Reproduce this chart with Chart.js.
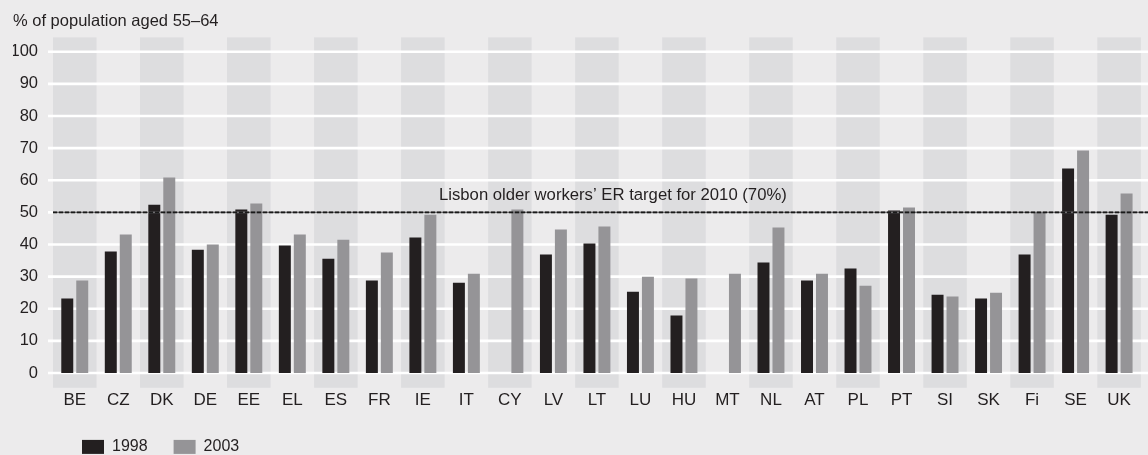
<!DOCTYPE html>
<html><head><meta charset="utf-8">
<script src="https://cdn.jsdelivr.net/npm/chart.js@4/dist/chart.umd.min.js"></script>
<style>html,body{margin:0;padding:0;background:#ecebec;} canvas{display:block}</style>
</head><body>
<canvas id="c" width="1148" height="455"></canvas>
<script>
const categories = ['BE','CZ','DK','DE','EE','EL','ES','FR','IE','IT','CY','LV','LT','LU','HU','MT','NL','AT','PL','PT','SI','SK','Fi','SE','UK'];
const values1998 = [23.2,37.8,52.4,38.4,50.9,39.7,35.6,28.8,42.2,28.1,null,36.9,40.3,25.3,17.9,null,34.4,28.8,32.5,50.6,24.4,23.2,36.9,63.7,49.3];
const values2003 = [28.8,43.1,60.9,40.0,52.8,43.1,41.5,37.5,49.3,30.9,50.9,44.7,45.6,30.0,29.4,30.9,45.3,30.9,27.2,51.5,23.8,25.0,49.9,69.3,55.9];
const seriesLabels = ['1998','2003'];
const yMin = 0, yMax = 100, yStep = 10;
const targetValue = 50;
const targetLabel = 'Lisbon older workers\u2019 ER target for 2010 (70%)';
const axisTitle = '% of population aged 55\u201364';

const TEXT = '#231f20';
const FONT = '"Liberation Sans", Arial, sans-serif';
const NARROW = '"Liberation Sans Narrow", "Liberation Sans", Arial, sans-serif';

const decor = {
  id: 'decor',
  afterLayout(chart) {
    if (chart.legend) {
      chart.legend.left += 43;
      chart.legend.top += 2.5;
      chart.legend.bottom += 2.5;
    }
  },
  beforeDraw(chart) {
    const {ctx, chartArea: a, scales: {x, y}} = chart;
    ctx.save();
    ctx.fillStyle = '#ecebec';
    ctx.fillRect(0, 0, chart.width, chart.height);
    const w = (a.right - a.left) / categories.length;
    const top = y.getPixelForValue(104.5), bottom = y.getPixelForValue(-4.6);
    ctx.fillStyle = '#dddddf';
    categories.forEach((c, i) => {
      if (i % 2 === 0) {
        const cx = x.getPixelForValue(i);
        ctx.fillRect(cx - w / 2, top, w, bottom - top);
      }
    });
    ctx.strokeStyle = '#ffffff';
    ctx.lineWidth = 2.6;
    y.ticks.forEach(t => {
      const py = y.getPixelForValue(t.value);
      ctx.beginPath(); ctx.moveTo(a.left - 5, py); ctx.lineTo(chart.width, py); ctx.stroke();
    });
    ctx.restore();
  },
  afterDatasetsDraw(chart) {
    const {ctx, chartArea: a, scales: {y}} = chart;
    const py = y.getPixelForValue(targetValue);
    ctx.save();
    ctx.strokeStyle = '#6e6d6f';
    ctx.lineWidth = 1.8;
    ctx.beginPath(); ctx.moveTo(a.left, py); ctx.lineTo(chart.width, py); ctx.stroke();
    ctx.strokeStyle = '#1a1a1a';
    ctx.lineWidth = 1.8;
    ctx.setLineDash([4, 2]);
    ctx.beginPath(); ctx.moveTo(a.left, py); ctx.lineTo(chart.width, py); ctx.stroke();
    ctx.setLineDash([]);
    ctx.fillStyle = TEXT;
    ctx.font = '16.7px ' + FONT;
    ctx.textAlign = 'left';
    ctx.textBaseline = 'middle';
    ctx.fillText(targetLabel, a.left + 386, py - 17);
    ctx.restore();
  }
};

new Chart(document.getElementById('c'), {
  type: 'bar',
  data: {
    labels: categories,
    datasets: [
      {label: seriesLabels[0], data: values1998, backgroundColor: '#231f20', borderWidth: 0, categoryPercentage: 0.688, barPercentage: 0.8},
      {label: seriesLabels[1], data: values2003, backgroundColor: '#959497', borderWidth: 0, categoryPercentage: 0.688, barPercentage: 0.8}
    ]
  },
  options: {
    responsive: false,
    animation: false,
    devicePixelRatio: 1,
    layout: {padding: {left: 13, right: 5, top: 12, bottom: -7.4}},
    plugins: {
      tooltip: {enabled: false},
      title: {
        display: true, text: axisTitle, align: 'start', color: TEXT,
        font: {family: FONT, size: 16.5, weight: 'normal', lineHeight: 1.2},
        padding: {top: 0, bottom: 20}
      },
      legend: {
        position: 'bottom', align: 'start',
        labels: {color: TEXT, font: {family: FONT, size: 16}, boxWidth: 22, boxHeight: 14, padding: 26}
      }
    },
    scales: {
      x: {
        afterFit(s) { s.height = 37.4; },
        grid: {display: false, drawTicks: false},
        border: {display: false},
        ticks: {color: TEXT, font: {family: NARROW, size: 17}, padding: 17, maxRotation: 0, autoSkip: false}
      },
      y: {
        min: yMin, max: yMax,
        afterFit(s) { s.width = 40; },
        grid: {display: false, drawTicks: false},
        border: {display: false},
        ticks: {stepSize: yStep, color: TEXT, font: {family: FONT, size: 16.5}, padding: 15}
      }
    }
  },
  plugins: [decor]
});
</script>
</body></html>
